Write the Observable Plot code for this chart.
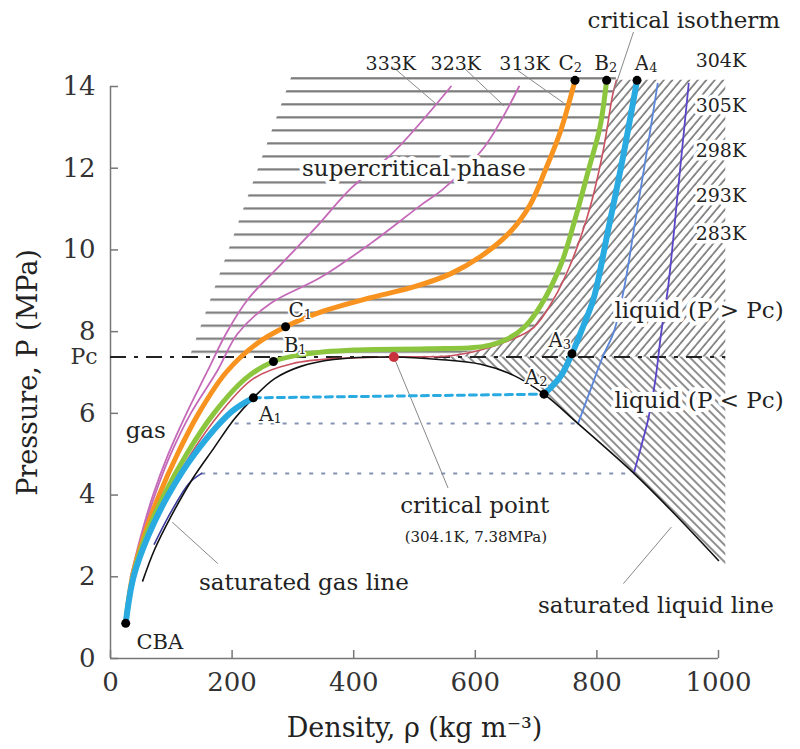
<!DOCTYPE html>
<html>
<head>
<meta charset="utf-8">
<script src="https://cdn.jsdelivr.net/npm/d3@7"></script>
<script src="https://cdn.jsdelivr.net/npm/@observablehq/plot@0.6"></script>
<style>
html,body{margin:0;padding:0;background:#fff;}
#chart svg{display:block;}
</style>
</head>
<body>
<div id="chart"></div>
<script>
// ---------- axes ----------
const xTicks = [0, 200, 400, 600, 800, 1000];
const yTicks = [0, 2, 4, 6, 8, 10, 12, 14];
const criticalPressure = 7.38;      // Pc (MPa)
const criticalDensity = 466;        // kg m^-3

// ---------- curves [density, pressure] ----------
const saturationCurve = [[53,1.9],[72,2.65],[100,3.49],[135,4.4],[170,5.15],[203,5.85],[235,6.38],[270,6.85],[313,7.15],[367,7.32],[466,7.38],[540,7.32],[609,7.2],[663,6.93],[713,6.47],[769,5.75],[815,5.15],[861,4.53],[927,3.55],[1000,2.4]];
const isothermA_gas = [[25,0.86],[38,2],[62,3],[95,4],[138,5],[200,6.05],[235,6.38]];
const isothermA_liquid = [[713,6.47],[740,6.9],[759,7.46],[778,8.15],[795,8.83],[818,10.45],[842,12.2],[866,14.15]];
const isothermA_tieLine = [[235,6.38],[713,6.47]];
const isothermB = [[25,0.86],[37,2],[58,3],[88,4],[125,5],[170,6],[222,6.85],[268,7.27],[320,7.45],[400,7.55],[520,7.58],[614,7.64],[650,7.8],[680,8.1],[708,8.65],[741,9.65],[765,10.8],[787,12.0],[805,13.0],[816,14.15]];
const isothermC = [[25,0.86],[36,2],[55,3],[80,4],[110,5],[145,6],[190,7],[240,7.7],[288,8.12],[350,8.5],[420,8.8],[500,9.1],[560,9.42],[610,9.85],[658,10.45],[690,11.1],[715,11.95],[740,12.9],[764,14.15]];
const criticalIsotherm = [[40,2],[62,3],[93,4],[132,5],[180,6],[235,6.85],[300,7.22],[380,7.35],[466,7.38],[560,7.41],[609,7.55],[650,7.75],[696,8.1],[729,8.8],[758,9.7],[788,11.0],[810,12.4],[826,13.8],[832,14.15]];
const isotherm333 = [[33,2],[50,3],[70,4],[95,5],[125,6],[160,7.05],[190,7.95],[227,8.81],[280,9.64],[339,10.57],[395,11.5],[466,12.4],[560,14.0]];
const isotherm323 = [[35,2],[52,3],[73,4],[99,5],[132,6],[176,7.05],[209,7.95],[263,8.69],[346,9.33],[428,10.16],[510,11.09],[548,11.5],[614,12.5],[672,14.0]];
const isotherm293 = [[769,5.75],[790,6.6],[810,7.4],[828,8.0],[845,9.08],[862,10.6],[881,12.3],[900,14.07]];
const isotherm283 = [[861,4.55],[873,5.2],[885,5.9],[896,6.8],[906,8.0],[917,9.08],[934,11.55],[951,14.07]];
const isotherm283_gas = [[72,2.8],[100,3.6],[130,4.3],[150,4.53]];
const dottedIsobars = [{y:5.75, x1:205, x2:769},{y:4.53, x1:150, x2:861}];

// ---------- regions ----------
const supercriticalLeftEdge = [[132,7.42],[298,14.22]];
const supercriticalBottom = 7.42, supercriticalTop = 14.22;
const liquidTop = 14.15, liquidRight = 1012, liquidBottomRight = 2.25;

// ---------- state points ----------
const statePoints = [[25,0.86],[235,6.38],[268,7.27],[288,8.12],[713,6.47],[759,7.46],[866,14.15],[816,14.15],[764,14.15]];
const pointLabels = [
  {l:"C",s:"1",x:318,y:8.52},{l:"B",s:"1",x:309,y:7.66},{l:"A",s:"1",x:268,y:5.97},
  {l:"A",s:"2",x:705,y:6.88},{l:"A",s:"3",x:744,y:7.78},
  {l:"C",s:"2",x:762,y:14.56},{l:"B",s:"2",x:820,y:14.56},{l:"A",s:"4",x:886,y:14.56}
];
const topTempLabels = [{t:"333K",x:461},{t:"323K",x:568},{t:"313K",x:681}];
const rightTempLabels = [{t:"304K",y:14.63},{t:"305K",y:13.53},{t:"298K",y:12.43},{t:"293K",y:11.33},{t:"283K",y:10.40}];
const annotations = [
  {t:"supercritical phase", x:499, y:11.99},
  {t:"gas", x:58, y:5.58},
  {t:"saturated gas line", x:318, y:1.86},
  {t:"critical point", x:599, y:3.74},
  {t:"saturated liquid line", x:897, y:1.30},
  {t:"liquid (P > Pc)", x:968, y:8.52},
  {t:"liquid (P < Pc)", x:968, y:6.31},
  {t:"critical isotherm", x:943, y:15.61}
];
const criticalNote = [{t:"(304.1K, 7.38MPa)", x:601, y:2.96}];
const cbaLabel = [{t:"CBA", x:81, y:0.39}];
const leaders = [
  [[466,14.46],[535,13.58]],[[581,14.46],[647,13.53]],[[670,14.39],[745,13.6]],
  [[861,15.37],[828,13.9]],[[466,7.38],[555,4.18]],[[102,3.33],[176,2.33]],[[844,1.84],[922,3.21]]
];

// ---------- helpers ----------
const FONT = "DejaVu Serif";
const pts = a => a.map(([x, y]) => ({x, y}));
const curve = (a, o) => Plot.line(pts(a), {x:"x", y:"y", curve:"catmull-rom", ...o});

const superRows = [
  ...supercriticalLeftEdge.map(([x, y]) => ({x, y1: supercriticalBottom, y2: y})),
  ...criticalIsotherm.filter(([x]) => x > supercriticalLeftEdge[1][0])
    .map(([x, y]) => ({x, y1: Math.max(y, supercriticalBottom), y2: supercriticalTop}))
];
const liquidHighRows = [
  ...criticalIsotherm.filter(([x]) => x >= criticalDensity)
    .map(([x, y]) => ({x, y1: criticalPressure, y2: Math.min(Math.max(y, criticalPressure), liquidTop)})),
  {x: liquidRight, y1: criticalPressure, y2: liquidTop}
];
const liquidLowRows = [
  ...saturationCurve.filter(([x]) => x >= criticalDensity)
    .map(([x, y]) => ({x, y1: y, y2: criticalPressure})),
  {x: liquidRight, y1: liquidBottomRight, y2: criticalPressure}
];

const halo = {stroke:"white", strokeWidth:8, paintOrder:"stroke", fill:"#222", fontFamily:FONT};

const chart = Plot.plot({
  width: 800, height: 749,
  marginLeft: 110, marginRight: 82, marginTop: 86, marginBottom: 91,
  x: {domain: [0, 1000]},
  y: {domain: [0, 14]},
  style: {background: "white", fontFamily: FONT},
  marks: [
    Plot.areaY(superRows, {x:"x", y1:"y1", y2:"y2", fill:"url(#hatchH)"}),
    Plot.areaY(liquidHighRows, {x:"x", y1:"y1", y2:"y2", fill:"url(#hatchUp)"}),
    Plot.areaY(liquidLowRows, {x:"x", y1:"y1", y2:"y2", fill:"url(#hatchDown)"}),

    Plot.ruleX([0], {stroke:"#777", strokeWidth:1.5}),
    Plot.ruleY([0], {stroke:"#777", strokeWidth:1.5}),
    Plot.tickX(xTicks, {x: d => d, insetTop: 564, stroke:"#777", strokeWidth:1.5}),
    Plot.tickY(yTicks, {y: d => d, insetRight: 600, stroke:"#777", strokeWidth:1.5}),
    Plot.axisX({ticks: xTicks, tickFormat: d => String(d), tickSize: 0, tickPadding: 14, fontSize: 26, fontFamily: FONT, label: null, color:"#333"}),
    Plot.axisY({ticks: yTicks, tickFormat: d => String(d), tickSize: 0, tickPadding: 15, fontSize: 26, fontFamily: FONT, label: null, color:"#333"}),
    Plot.axisY({ticks: [criticalPressure], tickFormat: () => "Pc", tickSize: 0, tickPadding: 13, fontSize: 22, fontFamily: FONT, label: null, color:"#333"}),
    Plot.text(["Density, ρ (kg m⁻³)"], {frameAnchor:"bottom", dy: 70, textAnchor:"middle", lineAnchor:"middle", fontSize: 27, fontFamily: FONT, fill:"#222"}),
    Plot.text(["Pressure, P (MPa)"], {frameAnchor:"left", dx: -82, rotate: -90, textAnchor:"middle", lineAnchor:"middle", fontSize: 27, fontFamily: FONT, fill:"#222"}),

    Plot.ruleY(dottedIsobars, {y:"y", x1:"x1", x2:"x2", stroke:"#8393b3", strokeWidth:2, strokeDasharray:"4,8"}),
    Plot.ruleY([criticalPressure], {x1: 0, x2: liquidRight, stroke:"#222", strokeWidth:2, strokeDasharray:"16,8,4,8"}),

    curve(isotherm333, {stroke:"#c46ab8", strokeWidth:1.8}),
    curve(isotherm323, {stroke:"#c46ab8", strokeWidth:1.8}),
    curve(criticalIsotherm, {stroke:"#c9505e", strokeWidth:1.6}),
    curve(isotherm293, {stroke:"#5b86d9", strokeWidth:1.8}),
    curve(isotherm283, {stroke:"#5a45c8", strokeWidth:1.8}),
    curve(isotherm283_gas, {stroke:"#3a3a9a", strokeWidth:1.6}),

    ...leaders.map(seg => Plot.line(pts(seg), {x:"x", y:"y", stroke:"#888", strokeWidth:1})),

    curve(saturationCurve, {stroke:"#111", strokeWidth:1.6}),
    curve(isothermC, {stroke:"#f7931e", strokeWidth:5}),
    curve(isothermB, {stroke:"#8cc63f", strokeWidth:5}),
    curve(isothermA_gas, {stroke:"#29abe2", strokeWidth:6}),
    curve(isothermA_liquid, {stroke:"#29abe2", strokeWidth:6}),
    Plot.line(pts(isothermA_tieLine), {x:"x", y:"y", stroke:"#29abe2", strokeWidth:3, strokeDasharray:"7,5"}),

    Plot.dot(pts(statePoints), {x:"x", y:"y", r:4.5, fill:"#000"}),
    Plot.dot([{x: criticalDensity, y: criticalPressure}], {x:"x", y:"y", r:5, fill:"#c8323c"}),

    // text
    Plot.text(annotations, {x:"x", y:"y", text:"t", fontSize:23, ...halo}),
    Plot.text(criticalNote, {x:"x", y:"y", text:"t", fontSize:15, fill:"#222", fontFamily:FONT}),
    Plot.text(cbaLabel, {x:"x", y:"y", text:"t", fontSize:21, ...halo, strokeWidth:4}),
    Plot.text(topTempLabels, {x:"x", y: () => 14.56, text:"t", fontSize:19, fill:"#222", fontFamily:FONT}),
    Plot.text(rightTempLabels, {x: () => 1004, y:"y", text:"t", fontSize:19, ...halo, strokeWidth:7}),
    Plot.text(pointLabels, {x:"x", y:"y", text:"l", textAnchor:"end", fontSize:20, ...halo, strokeWidth:4}),
    Plot.text(pointLabels, {x:"x", y:"y", text:"s", textAnchor:"start", dy:4, fontSize:13, ...halo, strokeWidth:3})
  ]
});

// hatch patterns
const defs = d3.select(chart).insert("defs", ":first-child");
const ph = defs.append("pattern").attr("id","hatchH").attr("patternUnits","userSpaceOnUse")
  .attr("width",20).attr("height",13.02).attr("patternTransform","translate(0,-1)");
ph.append("line").attr("x1",0).attr("x2",20).attr("y1",1.2).attr("y2",1.2).attr("stroke","#7c7c7c").attr("stroke-width",2.2);
const pu = defs.append("pattern").attr("id","hatchUp").attr("patternUnits","userSpaceOnUse")
  .attr("width",6.5).attr("height",10).attr("patternTransform","rotate(40)");
pu.append("line").attr("x1",1).attr("x2",1).attr("y1",0).attr("y2",10).attr("stroke","#444").attr("stroke-width",1.2);
const pd = defs.append("pattern").attr("id","hatchDown").attr("patternUnits","userSpaceOnUse")
  .attr("width",6).attr("height",10).attr("patternTransform","rotate(-45)");
pd.append("line").attr("x1",1).attr("x2",1).attr("y1",0).attr("y2",10).attr("stroke","#444").attr("stroke-width",1.2);

document.getElementById("chart").appendChild(chart);
</script>
</body>
</html>
